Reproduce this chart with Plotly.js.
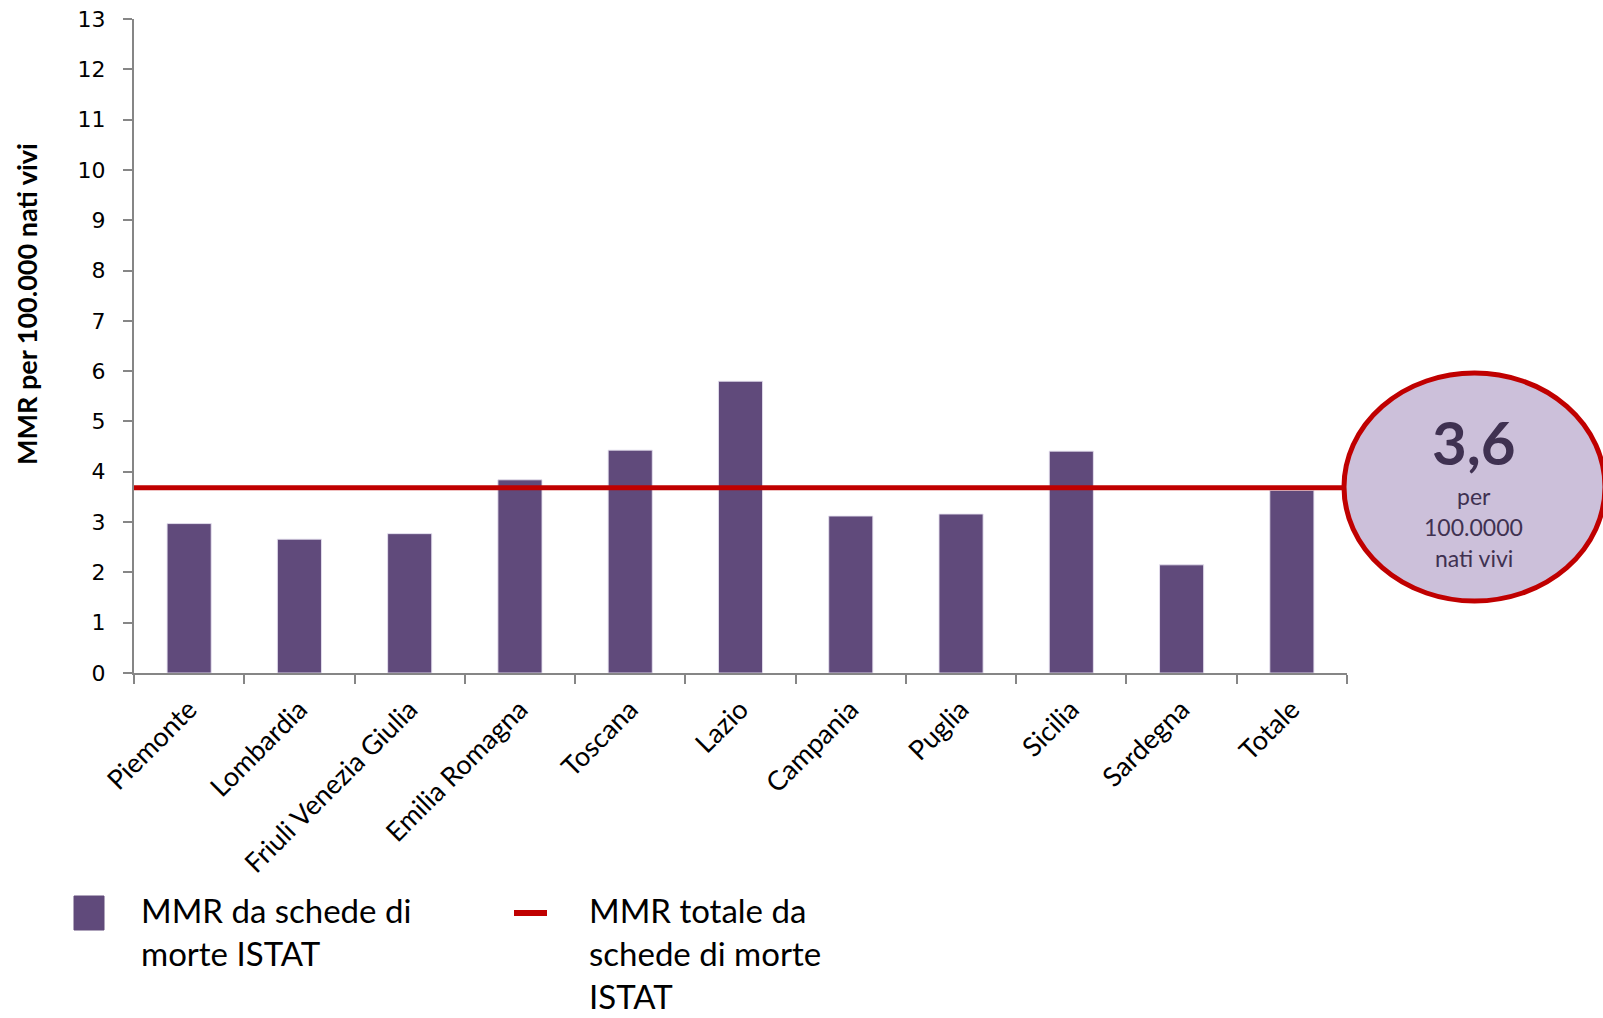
<!DOCTYPE html>
<html>
<head>
<meta charset="utf-8">
<script src="https://cdn.plot.ly/plotly-3.0.1.min.js"></script>
<style>
  html, body { margin: 0; padding: 0; background: #ffffff; }
  #chart { width: 1603px; height: 1018px; }
</style>
</head>
<body>
<div id="chart"></div>
<script>
// ---- data ----
const categories = ['Piemonte', 'Lombardia', 'Friuli Venezia Giulia', 'Emilia Romagna', 'Toscana',
                    'Lazio', 'Campania', 'Puglia', 'Sicilia', 'Sardegna', 'Totale'];
const mmrValues = [2.97, 2.66, 2.77, 3.84, 4.43, 5.80, 3.12, 3.16, 4.41, 2.15, 3.63];
const totalLineValue = 3.68;
const yTickValues = [0, 1, 2, 3, 4, 5, 6, 7, 8, 9, 10, 11, 12, 13];
const barSeriesName = 'MMR da schede di<br>morte ISTAT';
const lineSeriesName = 'MMR totale da<br>schede di morte<br>ISTAT';
const yAxisTitle = 'MMR per 100.000 nati vivi';
const circleValue = '3,6';
const circleSubLines = ['per', '100.0000', 'nati vivi'];

// ---- layout helpers (pixel -> paper) ----
const W = 1603, H = 1018;
const M = { l: 134, r: 256, t: 19, b: 345 };
const PW = W - M.l - M.r, PH = H - M.t - M.b;
const px = x => (x - M.l) / PW;
const py = y => (H - M.b - y) / PH;

const barColor = '#604a7b';
const lineColor = '#c00000';
const axisColor = '#868686';
const textFont = 'Lato, "Open Sans", sans-serif';

const traces = [{
  type: 'bar',
  x: categories,
  y: mmrValues,
  name: barSeriesName,
  width: 0.4,
  marker: { color: barColor, line: { color: 'rgba(230,225,240,0.9)', width: 1 } },
  hoverinfo: 'x+y'
}];

const shapes = [
  // total reference line, positioned through the y scale
  { type: 'line', xref: 'paper', yref: 'y', x0: 0, x1: 1, y0: totalLineValue, y1: totalLineValue,
    line: { color: lineColor, width: 5 }, layer: 'above' },
  // highlight circle
  { type: 'circle', xref: 'paper', yref: 'paper', x0: px(1344), x1: px(1605), y0: py(601), y1: py(373),
    fillcolor: '#ccc0da', line: { color: lineColor, width: 5 }, layer: 'above' },
  // legend symbols
  { type: 'rect', xref: 'paper', yref: 'paper', x0: px(74), x1: px(104), y0: py(930), y1: py(896),
    fillcolor: barColor, line: { color: barColor, width: 1 } },
  { type: 'line', xref: 'paper', yref: 'paper', x0: px(514), x1: px(547), y0: py(913), y1: py(913),
    line: { color: lineColor, width: 6 } }
];

const annotations = [
  { text: '<b>' + yAxisTitle + '</b>', xref: 'paper', yref: 'paper', x: px(26), y: py(304),
    textangle: -90, showarrow: false, font: { family: textFont, size: 27, color: '#000000' },
    xanchor: 'center', yanchor: 'middle' },
  { text: '<b>' + circleValue + '</b>', xref: 'paper', yref: 'paper', x: px(1474), y: py(442),
    showarrow: false, font: { family: textFont, size: 60, color: '#3f3151' }, xanchor: 'center', yanchor: 'middle' },
  { text: circleSubLines[0], xref: 'paper', yref: 'paper', x: px(1474), y: py(496),
    showarrow: false, font: { family: textFont, size: 23, color: '#3f3151' }, xanchor: 'center', yanchor: 'middle' },
  { text: circleSubLines[1], xref: 'paper', yref: 'paper', x: px(1474), y: py(527),
    showarrow: false, font: { family: textFont, size: 23, color: '#3f3151' }, xanchor: 'center', yanchor: 'middle' },
  { text: circleSubLines[2], xref: 'paper', yref: 'paper', x: px(1474), y: py(558),
    showarrow: false, font: { family: textFont, size: 23, color: '#3f3151' }, xanchor: 'center', yanchor: 'middle' },
  // legend texts
  { text: barSeriesName, xref: 'paper', yref: 'paper', x: px(139), y: py(888), align: 'left',
    showarrow: false, font: { family: textFont, size: 33, color: '#000000' }, xanchor: 'left', yanchor: 'top' },
  { text: lineSeriesName, xref: 'paper', yref: 'paper', x: px(587), y: py(888), align: 'left',
    showarrow: false, font: { family: textFont, size: 33, color: '#000000' }, xanchor: 'left', yanchor: 'top' }
];

const layout = {
  width: W, height: H,
  margin: M,
  paper_bgcolor: '#ffffff',
  plot_bgcolor: '#ffffff',
  showlegend: false,
  bargap: 0.6,
  xaxis: {
    type: 'category',
    showline: true, linecolor: axisColor, linewidth: 2,
    ticks: 'outside', tickson: 'boundaries', ticklen: 9, tickcolor: axisColor, tickwidth: 2,
    tickangle: -45,
    ticklabelstandoff: 8,
    tickfont: { family: textFont, size: 27, color: '#000000' },
    showgrid: false, zeroline: false,
    fixedrange: true
  },
  yaxis: {
    range: [0, 13],
    tickvals: yTickValues,
    showline: true, linecolor: axisColor, linewidth: 2,
    ticks: 'outside', ticklen: 9, tickcolor: axisColor, tickwidth: 2,
    ticklabelstandoff: 13,
    tickfont: { family: '"DejaVu Sans", Verdana, sans-serif', size: 22, color: '#000000' },
    showgrid: false, zeroline: false,
    fixedrange: true
  },
  shapes: shapes,
  annotations: annotations
};

Plotly.newPlot('chart', traces, layout, { displayModeBar: false, staticPlot: true });
</script>
</body>
</html>
